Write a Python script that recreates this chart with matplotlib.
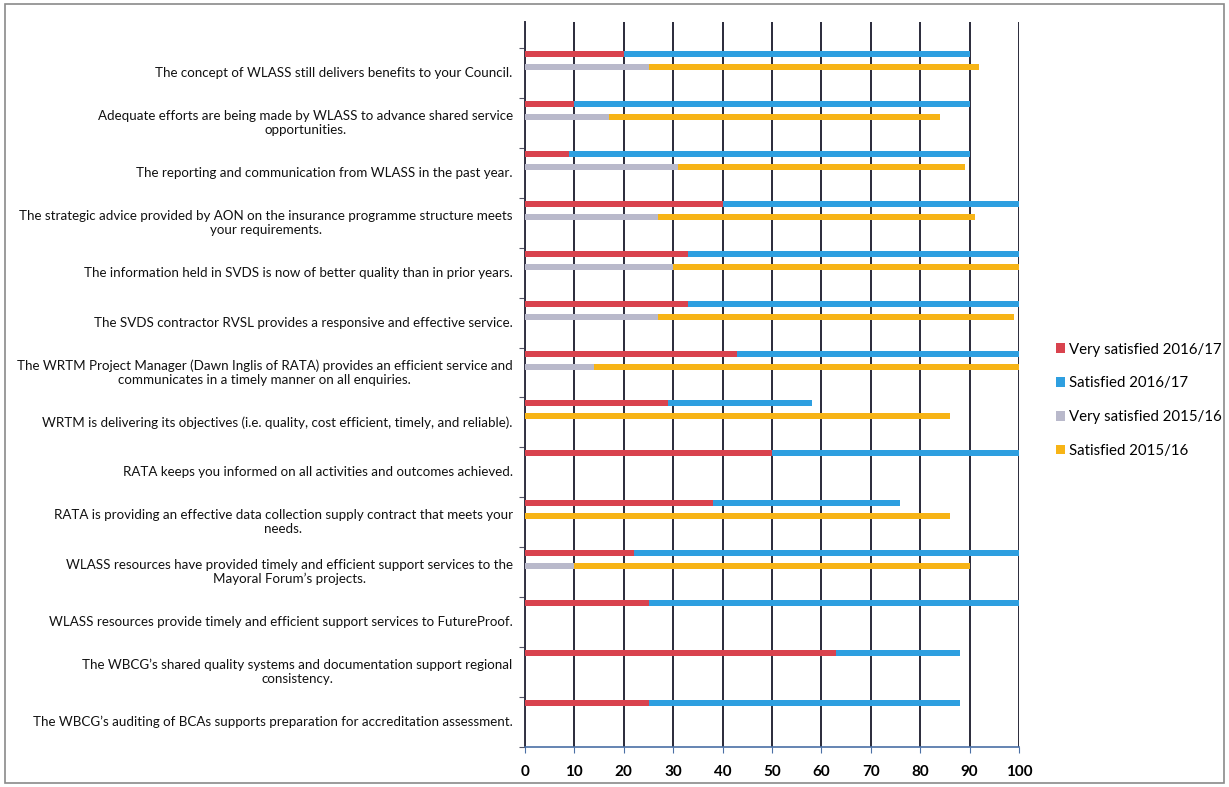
import matplotlib.pyplot as plt
from matplotlib.patches import Patch, Rectangle
import numpy as np

categories = [
    "The concept of WLASS still delivers benefits to your Council.",
    "Adequate efforts are being made by WLASS to advance shared service\nopportunities.",
    "The reporting and communication from WLASS in the past year.",
    "The strategic advice provided by AON on the insurance programme structure meets\nyour requirements.",
    "The information held in SVDS is now of better quality than in prior years.",
    "The SVDS contractor RVSL provides a responsive and effective service.",
    "The WRTM Project Manager (Dawn Inglis of RATA) provides an efficient service and\ncommunicates in a timely manner on all enquiries.",
    "WRTM is delivering its objectives (i.e. quality, cost efficient, timely, and reliable).",
    "RATA keeps you informed on all activities and outcomes achieved.",
    "RATA is providing an effective data collection supply contract that meets your\nneeds.",
    "WLASS resources have provided timely and efficient support services to the\nMayoral Forum\u2019s projects.",
    "WLASS resources provide timely and efficient support services to FutureProof.",
    "The WBCG\u2019s shared quality systems and documentation support regional\nconsistency.",
    "The WBCG\u2019s auditing of BCAs supports preparation for accreditation assessment.",
]

very_sat_1617 = [20, 10, 9, 40, 33, 33, 43, 29, 50, 38, 22, 25, 63, 25]
sat_1617 = [70, 80, 81, 60, 67, 67, 57, 29, 50, 38, 78, 75, 25, 63]
very_sat_1516 = [25, 17, 31, 27, 30, 27, 14, 0, 0, 0, 10, 0, 0, 0]
sat_1516 = [67, 67, 58, 64, 70, 72, 86, 86, 0, 86, 80, 0, 0, 0]

series_labels = ["Very satisfied 2016/17", "Satisfied 2016/17",
                 "Very satisfied 2015/16", "Satisfied 2015/16"]
colors = ["#d9434e", "#2e9fe0", "#b9b9cb", "#f7b416"]

plt.rcParams['font.family'] = ['Lato', 'DejaVu Sans']

fig = plt.figure(figsize=(12.29, 7.87), dpi=100)
ax = fig.add_axes([525 / 1229, 1 - 747 / 787, 494 / 1229, 725 / 787])

y = np.arange(len(categories))
h = 0.12
ax.barh(y - 0.38, very_sat_1617, height=h, color=colors[0], zorder=3)
ax.barh(y - 0.38, sat_1617, left=very_sat_1617, height=h, color=colors[1], zorder=3)
ax.barh(y - 0.12, very_sat_1516, height=h, color=colors[2], zorder=3)
ax.barh(y - 0.12, sat_1516, left=very_sat_1516, height=h, color=colors[3], zorder=3)

ax.set_xlim(0, 100)
ax.set_ylim(13.5, -1.02)
ax.set_xticks(range(0, 101, 10))
ax.tick_params(axis='x', labelsize=11, pad=9, length=4, color='#4a6fa5')
for t in ax.get_xticklabels():
    t.set_fontweight('bold')

# category tick marks sit between categories, labels at the centres
ax.set_yticks(np.arange(-0.5, 13.6, 1.0))
ax.set_yticklabels([])
ax.tick_params(axis='y', length=4, color='#555566')
for i, lab in enumerate(categories):
    ax.text(-2.5, i, lab, ha='right', va='center', multialignment='center',
            fontsize=9.6, color='#111111', transform=ax.transData)

ax.grid(axis='x', color='#2a2a3a', linewidth=1.4, zorder=1)
for s in ['top', 'right']:
    ax.spines[s].set_visible(False)
ax.spines['left'].set_color('#333344')
ax.spines['left'].set_linewidth(1.4)
ax.spines['bottom'].set_color('#4a6fa5')
ax.spines['bottom'].set_linewidth(1.2)

handles = [Patch(facecolor=c, edgecolor='none') for c in colors]
fig.legend(handles, series_labels, loc='upper left', bbox_to_anchor=(1042 / 1229, 1 - 329 / 787),
           frameon=False, fontsize=10.8, handlelength=0.6, handleheight=0.6,
           handletextpad=0.3, labelspacing=1.32)

fig.patches.append(Rectangle((5 / 1229, 4 / 787), 1219 / 1229, 779 / 787, transform=fig.transFigure,
                             fill=False, edgecolor='#8a8a8a', linewidth=1.2))

fig.savefig("out.png", dpi=100)
